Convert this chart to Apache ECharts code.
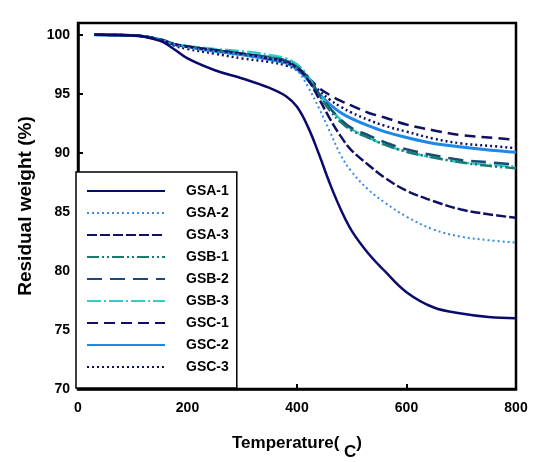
<!DOCTYPE html>
<html>
<head>
<meta charset="utf-8">
<script src="https://cdn.jsdelivr.net/npm/echarts@6/dist/echarts.min.js"></script>
<style>html,body{margin:0;padding:0;background:#fff}#c{width:545px;height:462px}</style>
</head>
<body>
<div id="c"></div>
<script>
var temps = [30, 100, 150, 175, 200, 250, 300, 350, 380, 400, 420, 440, 460, 480, 500, 530, 560, 600, 650, 700, 750, 800];
var seriesNames = ['GSA-1','GSA-2','GSA-3','GSB-1','GSB-2','GSB-3','GSC-1','GSC-2','GSC-3'];
var gsa1 = [100, 99.95, 99.5, 98.8, 98.0, 97.0, 96.3, 95.5, 94.8, 93.9, 92.2, 89.9, 87.4, 85.2, 83.4, 81.5, 80.0, 78.2, 76.9, 76.4, 76.1, 76.0];
var gsa2 = [100, 99.95, 99.6, 99.2, 98.9, 98.6, 98.3, 98.0, 97.6, 97.0, 95.6, 93.8, 91.8, 89.8, 88.4, 86.9, 85.8, 84.6, 83.5, 82.9, 82.6, 82.4];
var gsa3 = [100, 99.95, 99.6, 99.2, 99.0, 98.7, 98.4, 98.0, 97.7, 97.2, 96.2, 94.6, 92.9, 91.4, 90.2, 89.0, 87.9, 86.8, 85.9, 85.2, 84.8, 84.5];
var gsb1 = [100, 99.95, 99.6, 99.2, 99.0, 98.7, 98.4, 98.1, 97.8, 97.3, 96.3, 94.9, 93.6, 92.6, 91.9, 91.3, 90.7, 90.1, 89.6, 89.2, 88.9, 88.7];
var gsb2 = [100, 99.95, 99.6, 99.2, 99.0, 98.7, 98.4, 98.1, 97.8, 97.3, 96.4, 95.0, 93.8, 92.8, 92.1, 91.5, 90.9, 90.3, 89.8, 89.4, 89.2, 89.0];
var gsb3 = [100, 99.95, 99.6, 99.25, 99.05, 98.8, 98.6, 98.3, 98.0, 97.5, 96.5, 95.0, 93.8, 92.8, 92.0, 91.3, 90.7, 90.1, 89.6, 89.2, 89.0, 88.85];
var gsc1 = [100, 99.95, 99.6, 99.2, 99.0, 98.7, 98.4, 98.0, 97.7, 97.2, 96.4, 95.5, 94.9, 94.4, 94.0, 93.4, 93.0, 92.4, 91.9, 91.5, 91.3, 91.1];
var gsc2 = [100, 99.95, 99.6, 99.2, 99.0, 98.6, 98.3, 97.9, 97.6, 97.1, 96.2, 95.0, 94.1, 93.4, 92.9, 92.3, 91.8, 91.3, 90.8, 90.5, 90.25, 90.05];
var gsc3 = [100, 99.95, 99.6, 99.1, 98.8, 98.4, 98.0, 97.7, 97.4, 97.0, 96.2, 95.3, 94.5, 93.9, 93.4, 92.8, 92.3, 91.8, 91.2, 90.8, 90.6, 90.4];
var yTicks = [70, 75, 80, 85, 90, 95, 100];
var xTicks = [0, 200, 400, 600, 800];

var values = [gsa1, gsa2, gsa3, gsb1, gsb2, gsb3, gsc1, gsc2, gsc3];
var styles = [
  {color:'#0a0a6e', width:2.5, type:'solid'},
  {color:'#3a8ae0', width:2, type:[2,3]},
  {color:'#10106a', width:2.5, type:[10,3]},
  {color:'#1a7a70', width:2.5, type:[12,3,2,3,2,3]},
  {color:'#1a4a78', width:2.5, type:[15,8]},
  {color:'#33cccc', width:2.5, type:[14,3,2,3]},
  {color:'#101062', width:2.5, type:[11,6]},
  {color:'#1e88e5', width:3, type:'solid'},
  {color:'#101062', width:2.5, type:[2,3]}
];
var FONT = 'Arial, "Liberation Sans", sans-serif';
var series = seriesNames.map(function(n, i){
  return {
    name: n, type: 'line', symbol: 'none', smooth: 0.4,
    data: temps.map(function(t, j){ return [t, values[i][j]]; }),
    lineStyle: styles[i], itemStyle: {color: styles[i].color},
    z: 2 + (8 - i)
  };
});
var chart = echarts.init(document.getElementById('c'), null, {renderer:'canvas'});
chart.setOption({
  animation: false,
  backgroundColor: '#fff',
  grid: {left: 78, right: 29, top: 23, bottom: 73, show: true, borderColor: '#000', borderWidth: 2.5, outerBoundsMode: 'none', containLabel: false},
  legend: {
    orient: 'vertical', left: 76, top: 172,
    itemWidth: 78, itemHeight: 14, itemGap: 8,
    padding: [12, 8, 14, 10],
    borderColor: '#000', borderWidth: 1.5, backgroundColor: '#fff',
    itemStyle: {opacity: 0},
    textStyle: {fontFamily: FONT, fontWeight: 'bold', fontSize: 14, color: '#000', padding: [0,0,0,16]},
    data: seriesNames
  },
  xAxis: {
    type: 'value', min: 0, max: 800, interval: 200,
    name: '{m|Temperature( }{s|C}{m|)}', nameLocation: 'middle', nameGap: 46,
    nameTextStyle: {rich: {
      m: {fontFamily: FONT, fontWeight: 'bold', fontSize: 17, color: '#000', lineHeight: 26, verticalAlign: 'top'},
      s: {fontFamily: FONT, fontWeight: 'bold', fontSize: 17, color: '#000', lineHeight: 26, verticalAlign: 'bottom'}
    }},
    axisLine: {show: true, lineStyle: {color: '#000', width: 2.5}},
    axisTick: {show: true, inside: true, length: 5, lineStyle: {color: '#000', width: 2}},
    axisLabel: {fontFamily: FONT, fontWeight: 'bold', fontSize: 14, color: '#000', margin: 12,
      formatter: function(v){ return xTicks.indexOf(v) >= 0 ? String(v) : ''; }},
    splitLine: {show: false}
  },
  yAxis: {
    type: 'value', min: 70, max: 101, interval: 5,
    name: 'Residual weight (%)', nameLocation: 'middle', nameGap: 42, nameRotate: 90,
    nameTextStyle: {fontFamily: FONT, fontWeight: 'bold', fontSize: 19, color: '#000'},
    axisLine: {show: true, lineStyle: {color: '#000', width: 2.5}},
    axisTick: {show: true, inside: true, length: 5, lineStyle: {color: '#000', width: 2}},
    axisLabel: {fontFamily: FONT, fontWeight: 'bold', fontSize: 14, color: '#000', margin: 8, showMaxLabel: false,
      formatter: function(v){ return yTicks.indexOf(v) >= 0 ? String(v) : ''; }},
    splitLine: {show: false}
  },
  series: series
});
</script>
</body>
</html>
